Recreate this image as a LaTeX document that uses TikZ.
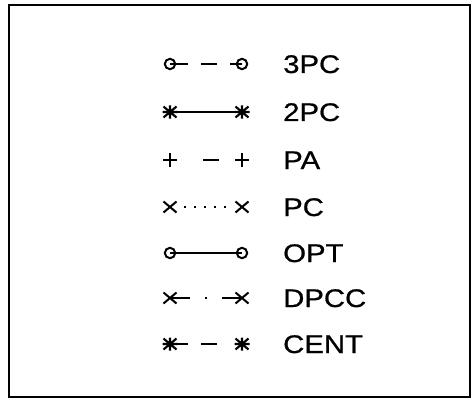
\documentclass[tikz,border=0pt]{standalone}
\usepackage{fontspec}
\setmainfont{Liberation Sans}
\newfontfamily\keyfont[FakeBold=0.7]{Liberation Sans}
\begin{document}
\begin{tikzpicture}[x=1pt,y=-1pt,
  frame/.style={line width=1.6pt},
  connector/.style={line width=1.7pt},
  keytext/.style={anchor=base west, inner sep=0pt, font=\keyfont\fontsize{25.5}{30}\selectfont},
  ringmark/.pic={\draw[line width=2pt] (0,0) circle (5.2);},
  starmark/.pic={\draw[line width=2.1pt] (-7.5,0)--(7.5,0) (-6.5,-5.5)--(6.5,5.5) (-6.5,5.5)--(6.5,-5.5) (0,-6.5)--(0,6.5);},
  crossmark/.pic={\draw[line width=2pt] (-6.5,-5.5)--(6.5,5.5) (-6.5,5.5)--(6.5,-5.5);},
  plusmark/.pic={\draw[line width=2pt] (-7,0)--(7,0) (0,-7)--(0,7);}
]
\useasboundingbox (0,0) rectangle (473,401);
\draw[frame] (9,5) rectangle (470,397);

% marker positions of each key row
\foreach \n/\y in {1/64,2/112,3/160,4/207,5/253,6/298,7/344}{
  \coordinate (l\n) at (170,\y);
  \coordinate (r\n) at (242,\y);
}

% 3PC
\draw[connector, dash pattern=on 18pt off 13pt on 16pt off 13pt on 12pt] (l1) -- (r1);
\pic at (l1) {ringmark}; \pic at (r1) {ringmark};
\node[keytext] (t1) at (283,73) {\scalebox{1.15}[1]{3PC}};

% 2PC
\draw[connector] (l2) -- (r2);
\pic at (l2) {starmark}; \pic at (r2) {starmark};
\node[keytext] (t2) at (283,121) {\scalebox{1.15}[1]{2PC}};

% PA
\draw[connector, dash pattern=on 0pt off 33pt on 16pt off 23pt] (l3) -- (r3);
\pic at (l3) {plusmark}; \pic at (r3) {plusmark};
\node[keytext] (t3) at (283,169) {\scalebox{1.15}[1]{PA}};

% PC
\draw[connector, line width=1.3pt, dash pattern=on 0pt off 14.4pt on 1.4pt off 8.6pt on 1.4pt off 8.6pt on 1.4pt off 8.6pt on 1.4pt off 8.6pt on 1.4pt off 30pt] (l4) -- (r4);
\pic at (l4) {crossmark}; \pic at (r4) {crossmark};
\node[keytext] (t4) at (283,216) {\scalebox{1.15}[1]{PC}};

% OPT
\draw[connector] (l5) -- (r5);
\pic at (l5) {ringmark}; \pic at (r5) {ringmark};
\node[keytext] (t5) at (283,262) {\scalebox{1.15}[1]{OPT}};

% DPCC
\draw[connector, line width=2pt, dash pattern=on 20pt off 15pt on 1.8pt off 15pt on 20.2pt] (l6) -- (r6);
\pic at (l6) {crossmark}; \pic at (r6) {crossmark};
\node[keytext] (t6) at (283,307) {\scalebox{1.15}[1]{DPCC}};

% CENT
\draw[connector, dash pattern=on 18pt off 13pt on 16pt off 25pt] (l7) -- (r7);
\pic at (l7) {starmark}; \pic at (r7) {starmark};
\node[keytext] (t7) at (283,353) {\scalebox{1.15}[1]{CENT}};
\end{tikzpicture}
\end{document}
